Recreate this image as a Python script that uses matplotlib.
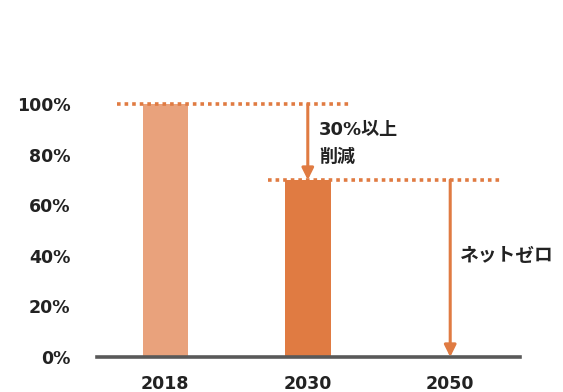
import matplotlib
matplotlib.use("Agg")
import matplotlib.pyplot as plt

plt.rcParams['font.family'] = ['DejaVu Sans', 'Noto Sans CJK JP']

categories = ["2018", "2030", "2050"]
values = [1.00, 0.70, 0.0]
bar_colors = ["#E9A27C", "#E07B42", "#E07B42"]
yticks = [0, 0.2, 0.4, 0.6, 0.8, 1.0]
ytick_labels = ["0%", "20%", "40%", "60%", "80%", "100%"]
reduction_line1 = "30%以上"
reduction_line2 = "削減"
netzero_label = "ネットゼロ"
orange = "#E07B42"

fig = plt.figure(figsize=(5.63, 3.92), dpi=100)
ax = fig.add_axes([97/563, 1-357/392, (520-97)/563, (357-53.6)/392])

x = range(len(categories))
ax.bar(list(x)[:2], values[:2], width=0.32, color=bar_colors[:2], zorder=2)

ax.set_xlim(-0.48, 2.49)
ax.set_ylim(0, 1.2)

# dotted reference lines
ax.plot([-0.34, 1.31], [values[0], values[0]], color=orange, lw=2.6,
        linestyle=(0, (1, 1.1)), zorder=3)
ax.plot([0.72, 2.37], [values[1], values[1]], color=orange, lw=2.6,
        linestyle=(0, (1, 1.1)), zorder=3)

# arrows
arrow_kw = dict(arrowstyle="-|>,head_length=0.7,head_width=0.35", color=orange,
                lw=2.2, shrinkA=0, shrinkB=0)
ax.annotate("", xy=(1, values[1]), xytext=(1, values[0]), arrowprops=arrow_kw, zorder=4)
ax.annotate("", xy=(2, values[2]), xytext=(2, values[1]), arrowprops=arrow_kw, zorder=4)

fam = ['DejaVu Sans', 'Noto Sans CJK JP']
jp = ['Noto Sans CJK JP']
ax.text(1.08, 0.897, reduction_line1, fontsize=13, fontweight='bold',
        family=fam, va='center', ha='left', color="#222222")
ax.text(1.08, 0.792, reduction_line2, fontsize=13, fontweight='bold',
        family=jp, va='center', ha='left', color="#222222")
ax.text(2.07, 0.40, netzero_label, fontsize=13.5, fontweight='bold',
        family=jp, va='center', ha='left', color="#222222")

for s in ["top", "right", "left"]:
    ax.spines[s].set_visible(False)
ax.spines["bottom"].set_color("#595959")
ax.spines["bottom"].set_linewidth(2.6)

ax.set_xticks(list(x))
ax.set_xticklabels(categories, fontsize=12.5, fontweight='bold', color="#222222")
ax.set_yticks(yticks)
ax.set_yticklabels(ytick_labels, fontsize=12.5, fontweight='bold', color="#222222")
ax.tick_params(axis='x', length=0, pad=13)
ax.tick_params(axis='y', length=0, pad=19)

fig.savefig("out.png", dpi=100)
